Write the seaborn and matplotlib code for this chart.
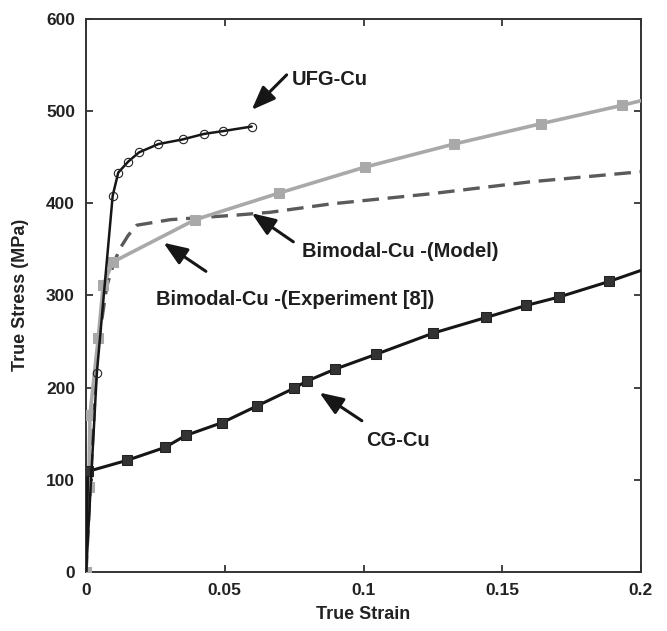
import matplotlib
matplotlib.use("Agg")
import matplotlib.pyplot as plt
import seaborn as sns
import numpy as np

sns.set_style("ticks")
plt.rcParams["font.family"] = ["Liberation Sans", "DejaVu Sans"]

# True strain / true stress (MPa) curves
ufg_strain = [0.0, 0.0039, 0.0096, 0.0116, 0.0152, 0.0191, 0.0261, 0.0348, 0.0425, 0.0493, 0.0597]
ufg_stress = [0, 216, 408, 433, 445, 455, 464, 469, 475, 478, 483]

exp_strain = [0.0, 0.0010, 0.0014, 0.0044, 0.0062, 0.0096, 0.0393, 0.0697, 0.1005, 0.1326, 0.1639, 0.1932, 0.2]
exp_stress = [0, 92, 170, 254, 311, 336, 382, 411, 439, 464, 486, 506, 511]

model_strain = [0.0, 0.0040, 0.0075, 0.0100, 0.0123, 0.0152, 0.0183, 0.0303, 0.0543, 0.0663, 0.0880, 0.1240, 0.1600, 0.2]
model_stress = [0, 240, 310, 335, 351, 365, 376, 382, 387, 390, 399, 410, 423, 434]

cg_strain = [0.0, 0.0006, 0.0147, 0.0284, 0.0359, 0.0491, 0.0616, 0.0748, 0.0796, 0.0898, 0.1045,
             0.1251, 0.1442, 0.1586, 0.1703, 0.1885, 0.2]
cg_stress = [0, 109, 121, 135, 148, 162, 180, 199, 207, 220, 236, 259, 276, 289, 298, 315, 327]

x_ticks = [0, 0.05, 0.1, 0.15, 0.2]
x_tick_labels = ["0", "0.05", "0.1", "0.15", "0.2"]
y_ticks = [0, 100, 200, 300, 400, 500, 600]

fig = plt.figure(figsize=(6.67, 6.31), dpi=100)
ax = fig.add_axes([0.129, 0.0935, 0.832, 0.877])

light_gray = "#a9a9a9"
dark_gray = "#5a5a5a"
ink = "#161616"

sns.lineplot(x=model_strain, y=model_stress, ax=ax, color=dark_gray, lw=2.4,
             linestyle=(0, (5, 2.6)), sort=False, zorder=2)
sns.lineplot(x=exp_strain, y=exp_stress, ax=ax, color=light_gray, lw=2.6, sort=False,
             marker="s", markersize=6.5, markeredgecolor=light_gray, markerfacecolor=light_gray,
             markevery=list(range(0, len(exp_strain) - 1)), zorder=3)
sns.lineplot(x=cg_strain, y=cg_stress, ax=ax, color=ink, lw=2.2, sort=False,
             marker="s", markersize=6.5, markeredgecolor="#222222", markerfacecolor="#333333",
             markevery=list(range(1, len(cg_strain) - 1)), zorder=4)
sns.lineplot(x=ufg_strain, y=ufg_stress, ax=ax, color=ink, lw=1.8, sort=False,
             marker="o", markersize=6, markerfacecolor="none", markeredgecolor="#222222",
             markeredgewidth=0.8, markevery=list(range(1, len(ufg_strain))), zorder=5)

ax.set_xlim(0, 0.2)
ax.set_ylim(0, 600)
ax.set_xticks(x_ticks)
ax.set_xticklabels(x_tick_labels)
ax.set_yticks(y_ticks)
ax.tick_params(direction="in", length=5, width=1.2, top=True, right=True,
               labelsize=12.5, pad=8, colors="#222222")
for lbl in ax.get_xticklabels() + ax.get_yticklabels():
    lbl.set_fontweight("bold")
for sp in ax.spines.values():
    sp.set_visible(True)
    sp.set_linewidth(1.4)
    sp.set_color("#333333")

ax.set_xlabel("True Strain", fontsize=13, fontweight="bold", color="#222222", labelpad=6)
ax.set_ylabel("True Stress (MPa)", fontsize=13, fontweight="bold", color="#222222", labelpad=12)

arrow = dict(arrowstyle="-|>,head_length=0.9,head_width=0.35", color=ink, lw=2.2,
             mutation_scale=16, shrinkA=0, shrinkB=0)
text_kw = dict(fontsize=14.5, fontweight="bold", color="#1e1e1e", ha="center", va="center")

ax.annotate("", xy=(0.0597, 501), xytext=(0.0723, 539), arrowprops=arrow)
ax.text(0.0879, 533.6, "UFG-Cu", **text_kw)

ax.annotate("", xy=(0.0597, 389), xytext=(0.0747, 358), arrowprops=arrow)
ax.text(0.1132, 347.4, "Bimodal-Cu -(Model)", **text_kw)

ax.annotate("", xy=(0.0279, 357), xytext=(0.0432, 326), arrowprops=arrow)
ax.text(0.0753, 295, "Bimodal-Cu -(Experiment [8])", **text_kw)

ax.annotate("", xy=(0.0841, 194.5), xytext=(0.0994, 164), arrowprops=arrow)
ax.text(0.1125, 143, "CG-Cu", **text_kw)

fig.savefig("out.png", dpi=100)
